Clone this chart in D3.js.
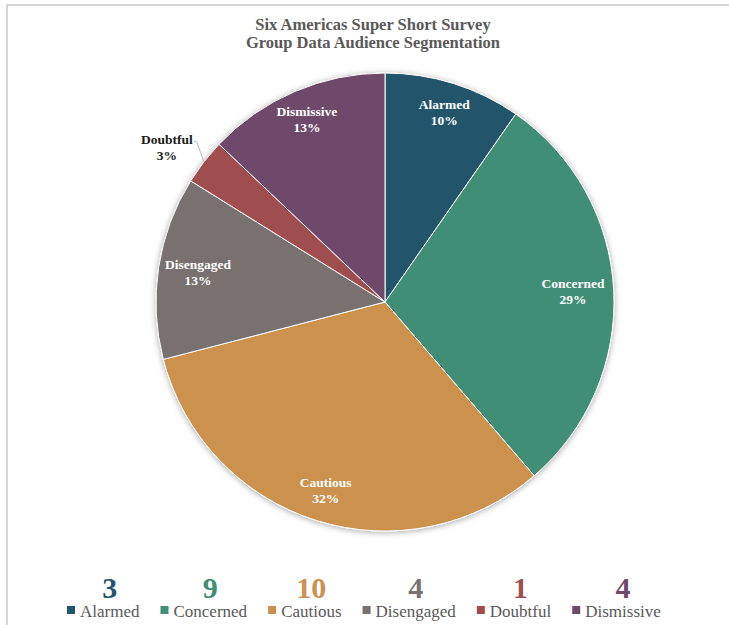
<!DOCTYPE html>
<html>
<head>
<meta charset="utf-8">
<script src="https://cdn.jsdelivr.net/npm/d3@7"></script>
<style>
  html, body { margin: 0; padding: 0; background: #fff; }
  svg { display: block; font-family: "Liberation Serif", "DejaVu Serif", serif; }
</style>
</head>
<body>
<div id="chart"></div>
<script>
const titleLines = ['Six Americas Super Short Survey', 'Group Data Audience Segmentation']
const segments = ['Alarmed', 'Concerned', 'Cautious', 'Disengaged', 'Doubtful', 'Dismissive']
const counts = [3, 9, 10, 4, 1, 4]
const colors = ['#22556a', '#418e74', '#cb914e', '#787170', '#a04d4f', '#6e4a6b']
const outsideLabels = ['Doubtful']

const width = 729
const height = 625
const cx = 385
const cy = 302
const radius = 229
const labelR = 198

const total = d3.sum(counts)
const data = segments.map((s, i) => ({ name: s, value: counts[i], color: colors[i] }))

const svg = d3.select('#chart').append('svg')
  .attr('width', width)
  .attr('height', height)

// chart area frame (cropped at right/bottom)
svg.append('rect')
  .attr('x', 7).attr('y', 5)
  .attr('width', width + 20).attr('height', height + 20)
  .attr('fill', 'none')
  .attr('stroke', '#c9c9c9')
  .attr('stroke-width', 1.5)

const defs = svg.append('defs')
const shadow = defs.append('filter').attr('id', 'shadow')
  .attr('x', '-10%').attr('y', '-10%').attr('width', '120%').attr('height', '120%')
shadow.append('feGaussianBlur').attr('in', 'SourceAlpha').attr('stdDeviation', 3)
shadow.append('feOffset').attr('dx', 0).attr('dy', 1).attr('result', 'blur')
shadow.append('feComponentTransfer').append('feFuncA').attr('type', 'linear').attr('slope', 0.35)
const merge = shadow.append('feMerge')
merge.append('feMergeNode')
merge.append('feMergeNode').attr('in', 'SourceGraphic')

// title
svg.append('text')
  .attr('x', 373).attr('y', 30)
  .attr('text-anchor', 'middle')
  .attr('fill', '#595959')
  .attr('font-weight', 'bold')
  .attr('font-size', 16.5)
  .selectAll('tspan')
  .data(titleLines)
  .join('tspan')
  .attr('x', 373)
  .attr('dy', (d, i) => i === 0 ? 0 : 18)
  .text((d) => d)

const pie = d3.pie().value((d) => d.value).sort(null)
const arcs = pie(data)
const arc = d3.arc().innerRadius(0).outerRadius(radius)

const g = svg.append('g').attr('transform', `translate(${cx},${cy})`)

g.append('g').attr('filter', 'url(#shadow)')
  .selectAll('path')
  .data(arcs)
  .join('path')
  .attr('d', arc)
  .attr('fill', (d) => d.data.color)
  .attr('stroke', '#fff')
  .attr('stroke-width', 1)

const pct = (v) => Math.round(v / total * 100) + '%'
const mid = (d) => (d.startAngle + d.endAngle) / 2

// labels inside slices
const inside = arcs.filter((d) => !outsideLabels.includes(d.data.name))
const lbl = g.selectAll('text.in')
  .data(inside)
  .join('text')
  .attr('class', 'in')
  .attr('text-anchor', 'middle')
  .attr('fill', '#fff')
  .attr('font-weight', 'bold')
  .attr('font-size', 13.5)
  .attr('transform', (d) => {
    let a = mid(d)
    let r = labelR - 10 * Math.pow(Math.abs(Math.sin(a)), 12)
    return `translate(${r * Math.sin(a)},${-r * Math.cos(a)})`
  })
lbl.append('tspan').attr('x', 0).attr('y', -4).text((d) => d.data.name)
lbl.append('tspan').attr('x', 0).attr('y', 12).text((d) => pct(d.data.value))

// outside labels with leader line
const outside = arcs.filter((d) => outsideLabels.includes(d.data.name))
outside.forEach((d) => {
  let a = mid(d)
  let la = a - 0.05
  let lr = 266
  let lx = lr * Math.sin(la)
  let ly = -lr * Math.cos(la)
  let t = g.append('text')
    .attr('text-anchor', 'middle')
    .attr('fill', '#1a1a1a')
    .attr('font-weight', 'bold')
    .attr('font-size', 13.5)
    .attr('transform', `translate(${lx},${ly})`)
  t.append('tspan').attr('x', 0).attr('y', -6).text(d.data.name)
  t.append('tspan').attr('x', 0).attr('y', 10).text(pct(d.data.value))
  let px = radius * Math.sin(a)
  let py = -radius * Math.cos(a)
  g.append('polyline')
    .attr('points', [[lx + 27, ly - 9], [lx + 30, ly - 8], [px, py]].map((p) => p.join(',')).join(' '))
    .attr('fill', 'none')
    .attr('stroke', '#a6a6a6')
    .attr('stroke-width', 0.8)
})

// legend
const legend = svg.append('g').attr('font-size', 17)
let x = 67
data.forEach((d) => {
  let item = legend.append('g')
  item.append('rect')
    .attr('x', x).attr('y', 606)
    .attr('width', 8).attr('height', 8)
    .attr('fill', d.color)
  let txt = item.append('text')
    .attr('x', x + 13).attr('y', 617)
    .attr('fill', '#595959')
    .text(d.name)
  let w = txt.node().getComputedTextLength()
  legend.append('text')
    .attr('x', x + 13 + w / 2).attr('y', 598)
    .attr('text-anchor', 'middle')
    .attr('fill', d.color)
    .attr('font-weight', 'bold')
    .attr('font-size', 30)
    .text(d.value)
  x += 13 + w + 21
})
</script>
</body>
</html>
